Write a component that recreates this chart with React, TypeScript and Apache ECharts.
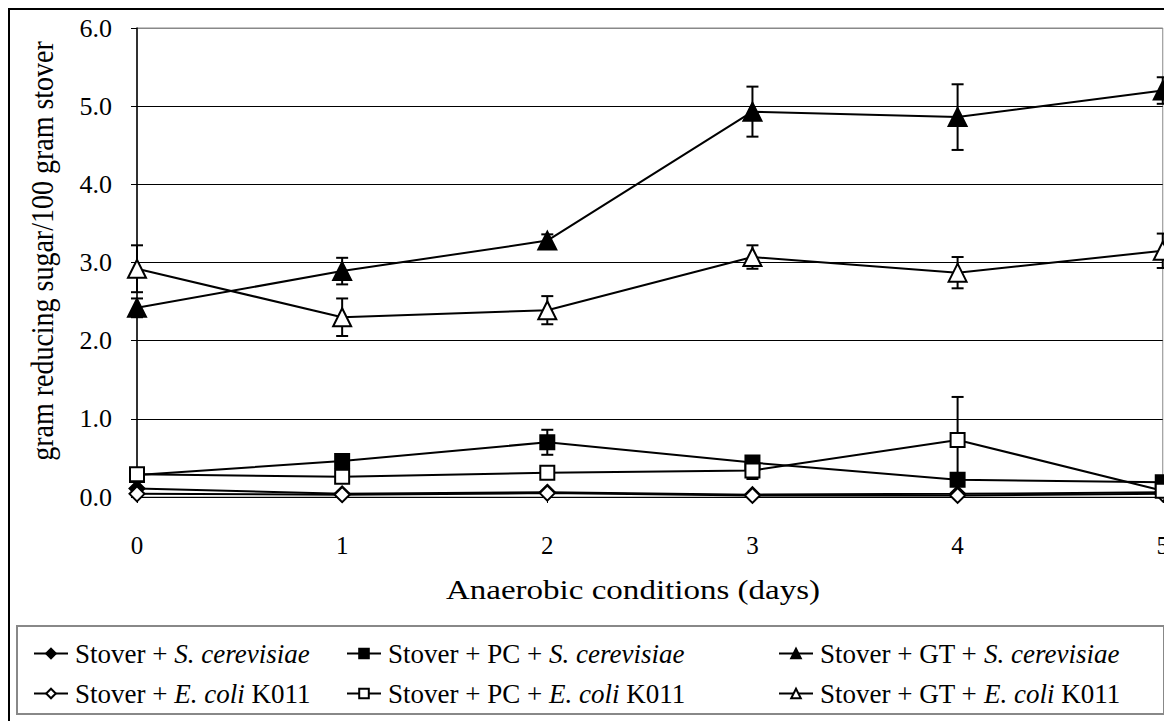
import React, { useEffect, useRef } from "react";
import * as echarts from "echarts";

const days = [0, 1, 2, 3, 4, 5];
const yTicks = [0, 1, 2, 3, 4, 5, 6];

const stoverSc = [0.11, 0.04, 0.06, 0.03, 0.04, 0.06];
const stoverEc = [0.04, 0.03, 0.05, 0.02, 0.02, 0.04];
const pcSc = [0.28, 0.46, 0.7, 0.44, 0.22, 0.19];
const pcEc = [0.29, 0.26, 0.31, 0.34, 0.73, 0.08];
const gtSc = [2.42, 2.89, 3.28, 4.93, 4.86, 5.2];
const gtEc = [2.92, 2.3, 2.39, 3.07, 2.87, 3.15];

const stoverScErr = [0.01, 0.01, 0.01, 0.01, 0.01, 0.01];
const stoverEcErr = [0.01, 0.01, 0.01, 0.01, 0.01, 0.01];
const pcScErr = [0.02, 0.03, 0.16, 0.05, 0.04, 0.03];
const pcEcErr = [0.02, 0.02, 0.03, 0.11, 0.55, 0.02];
const gtScErr = [0.12, 0.17, 0.08, 0.32, 0.42, 0.17];
const gtEcErr = [0.3, 0.24, 0.18, 0.15, 0.2, 0.22];

const xTitle = "Anaerobic conditions (days)";
const yTitle = "gram reducing sugar/100 gram stover";

const seriesNames = [
  "Stover + S. cerevisiae",
  "Stover + PC + S. cerevisiae",
  "Stover + GT + S. cerevisiae",
  "Stover + E. coli K011",
  "Stover + PC + E. coli K011",
  "Stover + GT + E. coli K011",
];
// legend label parts: [normal, italic, normal]
const legendParts: [string, string, string][] = [
  ["Stover + ", "S. cerevisiae", ""],
  ["Stover + PC + ", "S. cerevisiae", ""],
  ["Stover + GT + ", "S. cerevisiae", ""],
  ["Stover + ", "E. coli", " K011"],
  ["Stover + PC + ", "E. coli", " K011"],
  ["Stover + GT + ", "E. coli", " K011"],
];
const seriesValues = [stoverSc, pcSc, gtSc, stoverEc, pcEc, gtEc];
const seriesErrors = [stoverScErr, pcScErr, gtScErr, stoverEcErr, pcEcErr, gtEcErr];
const symbols = ["diamond", "rect", "triangle", "diamond", "rect", "triangle"];
const symbolSizes = [15, 14, 18, 15, 14, 18];
const filled = [true, true, true, false, false, false];

const FONT = "Liberation Serif";

export default function App() {
  const ref = useRef<HTMLDivElement>(null);
  useEffect(() => {
    if (!ref.current) return;
    const chart = echarts.init(ref.current, undefined, { renderer: "svg" });

    const lineSeries = seriesNames.map((name, i) => ({
      name,
      type: "line",
      data: days.map((d, j) => [d, seriesValues[i][j]]),
      symbol: symbols[i],
      symbolSize: symbolSizes[i],
      showSymbol: true,
      z: 3,
      lineStyle: { color: "#000", width: 2 },
      itemStyle: {
        color: filled[i] ? "#000" : "#fff",
        borderColor: "#000",
        borderWidth: 2,
      },
      emphasis: { disabled: true },
    }));

    const errSeries = seriesNames.map((name, i) => ({
      name: "err " + name,
      type: "custom",
      z: 2,
      data: days.map((d, j) => [d, seriesValues[i][j] - seriesErrors[i][j], seriesValues[i][j] + seriesErrors[i][j]]),
      renderItem: (params: any, api: any) => {
        const x = api.value(0);
        const lo = api.coord([x, api.value(1)]);
        const hi = api.coord([x, api.value(2)]);
        const w = 6;
        const st = { stroke: "#000", lineWidth: 2 };
        return {
          type: "group",
          children: [
            { type: "line", shape: { x1: lo[0], y1: lo[1], x2: hi[0], y2: hi[1] }, style: st },
            { type: "line", shape: { x1: lo[0] - w, y1: lo[1], x2: lo[0] + w, y2: lo[1] }, style: st },
            { type: "line", shape: { x1: hi[0] - w, y1: hi[1], x2: hi[0] + w, y2: hi[1] }, style: st },
          ],
        };
      },
    }));

    const legendPos = [
      { left: 20, top: 627 },
      { left: 333, top: 627 },
      { left: 765, top: 627 },
      { left: 20, top: 667 },
      { left: 333, top: 667 },
      { left: 765, top: 667 },
    ];

    const legends = seriesNames.map((name, i) => ({
      data: [name],
      left: legendPos[i].left,
      top: legendPos[i].top,
      orient: "horizontal",
      itemWidth: 34,
      itemHeight: 12,
      itemGap: 0,
      selectedMode: false,
      formatter: () => {
        const p = legendParts[i];
        return "{n|" + p[0] + "}{i|" + p[1] + "}" + (p[2] ? "{n|" + p[2] + "}" : "");
      },
      textStyle: {
        fontFamily: FONT,
        fontSize: 27,
        color: "#000",
        padding: [0, 0, 0, 2],
        rich: {
          n: { fontFamily: FONT, fontSize: 27, color: "#000" },
          i: { fontFamily: FONT, fontSize: 27, color: "#000", fontStyle: "italic" },
        },
      },
    }));

    chart.setOption({
      animation: false,
      backgroundColor: "#fff",
      grid: { left: 129, top: 20, right: 5, bottom: 224, show: true, borderColor: "#888", borderWidth: 1 },
      xAxis: {
        type: "value",
        min: 0,
        max: 5,
        interval: 1,
        axisLine: { show: true, onZero: false, lineStyle: { color: "#000", width: 1 } },
        axisTick: { show: true, length: 6, lineStyle: { color: "#000" } },
        axisLabel: { fontFamily: FONT, fontSize: 25, color: "#000", margin: 36 },
        splitLine: { show: false },
      },
      yAxis: {
        type: "value",
        min: 0,
        max: 6,
        interval: 1,
        axisLine: { show: true, lineStyle: { color: "#000", width: 1.5 } },
        axisTick: { show: true, length: 6, lineStyle: { color: "#000" } },
        axisLabel: {
          fontFamily: FONT,
          fontSize: 26,
          color: "#000",
          margin: 25,
          formatter: (v: number) => v.toFixed(1),
        },
        splitLine: {
          show: true,
          lineStyle: { color: yTicks.map((t) => (t === 6 ? "#888" : "#000")), width: 1 },
        },
      },
      legend: legends,
      graphic: [
        {
          type: "rect",
          shape: { x: 1, y: 1, width: 1300, height: 900 },
          style: { fill: "none", stroke: "#000", lineWidth: 2 },
          silent: true,
        },
        {
          type: "rect",
          shape: { x: 9, y: 618, width: 1147, height: 88 },
          style: { fill: "none", stroke: "#888", lineWidth: 2 },
          silent: true,
        },
        {
          type: "text",
          x: 625,
          y: 582,
          scaleX: 1.18,
          style: {
            text: xTitle,
            fontFamily: FONT,
            fontSize: 28,
            fill: "#000",
            textAlign: "center",
            textVerticalAlign: "middle",
          },
          silent: true,
        },
        {
          type: "text",
          x: 34,
          y: 243,
          rotation: Math.PI / 2,
          scaleY: 1.15,
          style: {
            text: yTitle,
            fontFamily: FONT,
            fontSize: 28,
            fill: "#000",
            textAlign: "center",
            textVerticalAlign: "middle",
          },
          silent: true,
        },
      ],
      series: [...errSeries, ...lineSeries],
    });

    return () => chart.dispose();
  }, []);

  return <div ref={ref} style={{ width: 1164, height: 713 }} />;
}
